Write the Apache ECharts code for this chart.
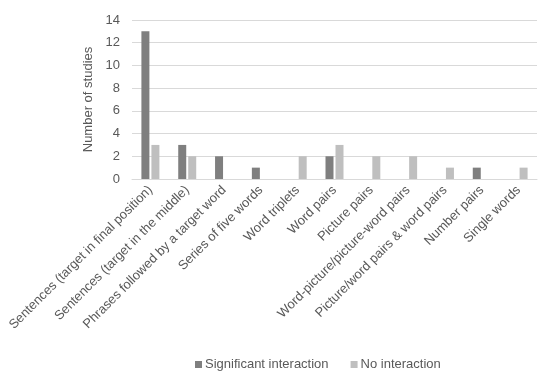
<!DOCTYPE html>
<html><head><meta charset="utf-8">
<script src="https://cdn.jsdelivr.net/npm/echarts@6/dist/echarts.min.js"></script>
<style>html,body{margin:0;padding:0;background:#fff}#c{width:550px;height:377px}</style>
</head><body><div id="c"></div>
<script>
var categories = ["Sentences (target in final position)","Sentences (target in the middle)","Phrases followed by a target word","Series of five words","Word triplets","Word pairs","Picture pairs","Word-picture/picture-word pairs","Picture/word pairs & word pairs","Number pairs","Single words"];
var significant = [13,3,2,1,0,2,0,0,0,1,0];
var noInteraction = [3,2,0,0,2,3,2,2,1,0,1];
var yTicks = [0,2,4,6,8,10,12,14];
var chart = echarts.init(document.getElementById('c'));
var font = 'Liberation Sans, Arial, sans-serif';
chart.setOption({
  animation:false,
  textStyle:{fontFamily:font},
  grid:{left:132,right:13,top:20,bottom:198,containLabel:false},
  legend:{top:353,left:190,itemWidth:7,itemHeight:7,itemGap:22,icon:'rect',
    textStyle:{fontFamily:font,fontSize:13,color:'#595959',padding:[0,0,0,-2]},
    data:['Significant interaction','No interaction']},
  xAxis:{type:'category',data:categories,
    axisLine:{lineStyle:{color:'#d9d9d9'}},axisTick:{show:false},
    axisLabel:{rotate:45,interval:0,fontSize:13,color:'#595959',fontFamily:font,margin:9}},
  yAxis:{type:'value',min:0,max:14,interval:2,
    name:'Number of studies',nameLocation:'middle',nameGap:36,nameRotate:90,
    nameTextStyle:{fontSize:13,color:'#595959',fontFamily:font},
    axisLine:{show:false},axisTick:{show:false},
    axisLabel:{fontSize:13,color:'#595959',fontFamily:font,margin:12,
      formatter:function(v){return yTicks.indexOf(v)>=0?String(v):'';}},
    splitLine:{lineStyle:{color:'#d9d9d9',width:1}}},
  series:[
    {name:'Significant interaction',type:'bar',data:significant,itemStyle:{color:'#7f7f7f'},barWidth:8,barGap:'25%'},
    {name:'No interaction',type:'bar',data:noInteraction,itemStyle:{color:'#bfbfbf'},barWidth:8}
  ]
});
</script></body></html>
